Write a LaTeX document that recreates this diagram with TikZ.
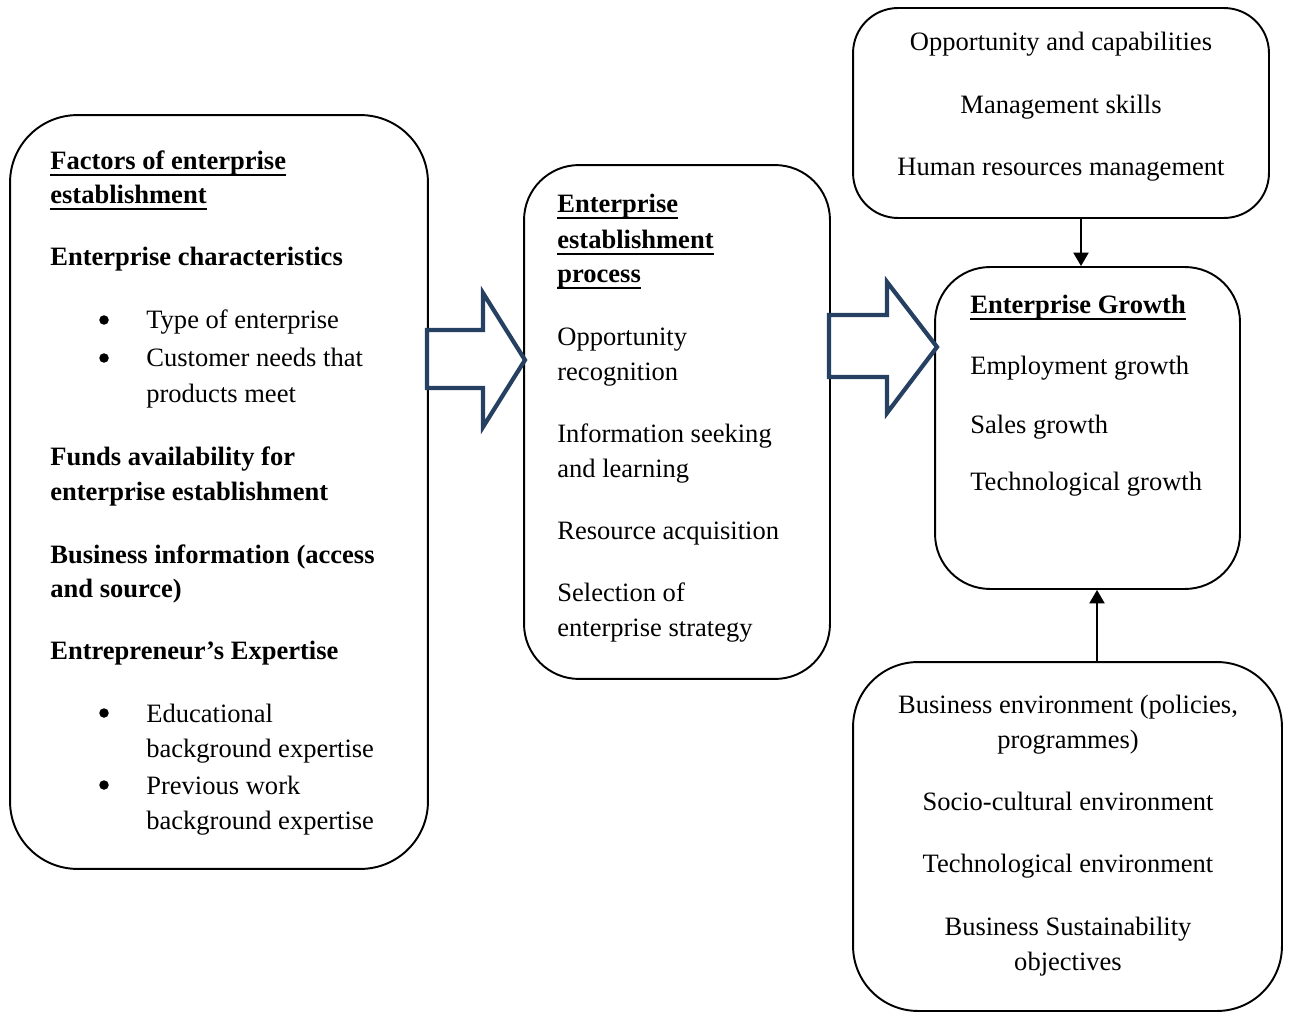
\documentclass[tikz,border=0pt]{standalone}
\usepackage{fontspec}
\setmainfont{Liberation Serif}
\usetikzlibrary{arrows.meta}
\usetikzlibrary{positioning}
\definecolor{arrowblue}{RGB}{38,64,97}
\tikzstyle{box} = [draw, line width = 1.1pt, inner sep = 0]
\tikzstyle{txt} = [inner sep = 0, anchor = base west, font = \fontsize{15.1}{19.9}\selectfont]
\tikzstyle{bold txt} = [txt, font = \fontsize{15.1}{19.9}\selectfont\bfseries]
\tikzstyle{centre txt} = [txt, anchor = base]
\tikzstyle{dot} = [circle, fill, inner sep = 0, minimum size = 0.19cm]
\tikzstyle{big arrow} = [draw = arrowblue, line width = 2.4pt, line join = miter]
\tikzstyle{link} = [line width = 1.4pt, -{Triangle[length = 0.27cm, width = 0.3cm]}]
\newcommand{\undl}[1]{\setbox0\hbox{#1}\rlap{\rule[-3.4pt]{\wd0}{1.3pt}}\box0}

\begin{document}
\begin{tikzpicture}[x = 0.02cm, y = -0.02cm]
            \useasboundingbox (0, 0) rectangle (1291, 1013);

            \node [box, rounded corners = 1.35cm, minimum width = 8.36cm, minimum height = 15.08cm]
                (factors) at (219, 492) {};
            \node [box, rounded corners = 1.1cm, minimum width = 6.12cm, minimum height = 10.28cm]
                (process) at (677, 422) {};
            \node [box, rounded corners = 0.9cm, minimum width = 8.32cm, minimum height = 4.2cm]
                (capabilities) at (1061, 113) {};
            \node [box, rounded corners = 1.1cm, minimum width = 6.1cm, minimum height = 6.44cm]
                (growth) at (1087.5, 428) {};
            \node [box, rounded corners = 1.3cm, minimum width = 8.58cm, minimum height = 6.98cm]
                (environment) at (1067.5, 836.5) {};

            \foreach \y/\t [count = \i] in {170/{\undl{Factors of enterprise}},
                204/{\undl{establishment}}, 266/{Enterprise characteristics},
                465/{Funds availability for}, 500/{enterprise establishment},
                563/{Business information (access}, 597/{and source)},
                659/{Entrepreneur’s Expertise}}
            {
                \node [bold txt] (fhead\i) at (50, \y) {\t};
            }

            \foreach \y/\t [count = \i] in {329/{Type of enterprise},
                367/{Customer needs that}, 402/{products meet}, 722/{Educational},
                757/{background expertise}, 794/{Previous work},
                829/{background expertise}}
            {
                \node [txt] (fitem\i) at (146, \y) {\t};
            }

            \foreach \y [count = \i] in {329, 367, 722, 794}
            {
                \node [dot] (bullet\i) at (104, \y - 9) {};
            }

            \foreach \y/\t [count = \i] in {213/Enterprise, 249/establishment, 283/process}
            {
                \node [bold txt] (phead\i) at (557, \y) {\undl{\t}};
            }

            \foreach \y/\t [count = \i] in {346/Opportunity, 380/recognition,
                442/{Information seeking}, 477/{and learning},
                539/{Resource acquisition}, 601/{Selection of},
                636/{enterprise strategy}}
            {
                \node [txt] (pitem\i) at (557, \y) {\t};
            }

            \node [bold txt] (ghead) at (970, 314) {\undl{Enterprise Growth}};
            \foreach \y/\t [count = \i] in {375/{Employment growth},
                433/{Sales growth}, 490/{Technological growth}}
            {
                \node [txt] (gitem\i) at (970, \y) {\t};
            }

            \foreach \y/\t [count = \i] in {51/{Opportunity and capabilities},
                114/{Management skills}, 176/{Human resources management}}
            {
                \node [centre txt] (citem\i) at (1061, \y) {\t};
            }

            \foreach \y/\t [count = \i] in {713/{Business environment (policies,},
                748/{programmes)}, 810/{Socio-cultural environment},
                872/{Technological environment}, 935/{Business Sustainability},
                970/{objectives}}
            {
                \node [centre txt] (eitem\i) at (1068, \y) {\t};
            }

            \draw [big arrow] (427, 330) -- (483, 330) -- (483, 293) -- (525, 360)
                -- (483, 427) -- (483, 388) -- (427, 388) -- cycle;
            \draw [big arrow] (829, 315) -- (887, 315) -- (887, 282) -- (937, 347)
                -- (887, 413) -- (887, 377) -- (829, 377) -- cycle;

            \coordinate (downx) at (1081, 0);
            \coordinate (upx) at (1097, 0);
            \draw [link] (capabilities.south -| downx) -- (growth.north -| downx);
            \draw [link] (environment.north -| upx) -- (growth.south -| upx);
        \end{tikzpicture}
\end{document}
